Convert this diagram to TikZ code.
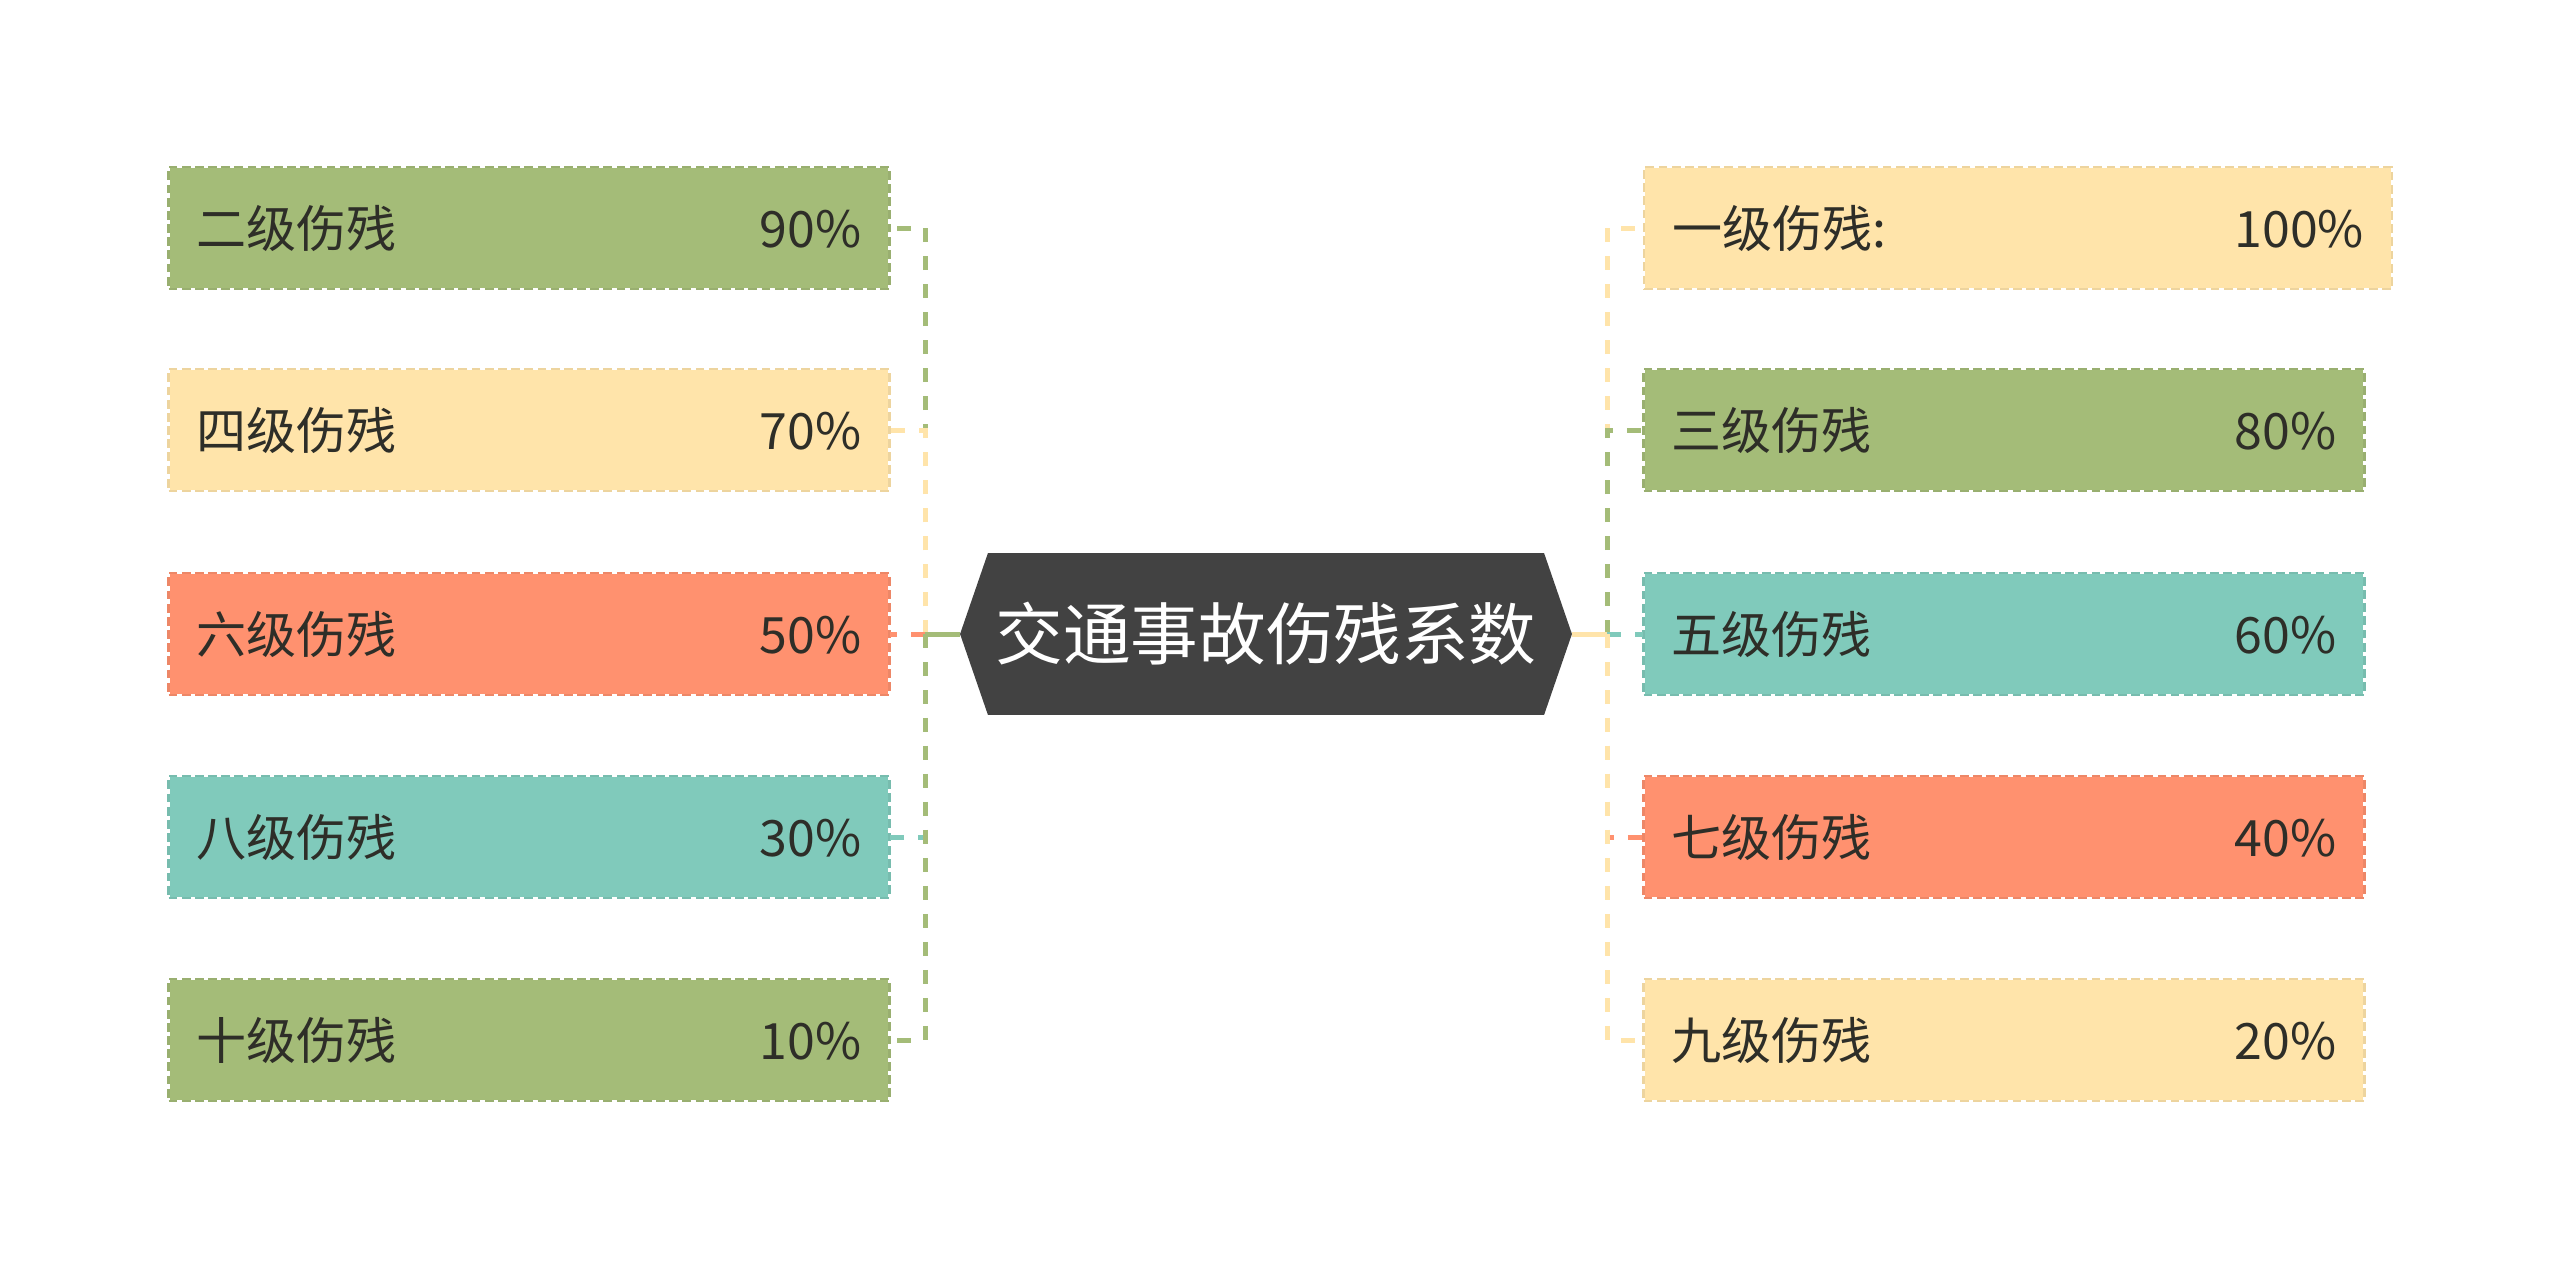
\documentclass[tikz,border=0pt]{standalone}
\usepackage{fontspec}
\setmainfont{Noto Sans CJK SC}
\usetikzlibrary{shapes.symbols}
\definecolor{leafgreen}{HTML}{A4BC78}
\definecolor{leafyellow}{HTML}{FFE4AA}
\definecolor{leaforange}{HTML}{FF916F}
\definecolor{leafteal}{HTML}{80CABB}
\definecolor{hubgray}{HTML}{424242}
\definecolor{ink}{HTML}{2E2E28}
\tikzset{
  leaf/.style  = {fill=#1, text=ink, minimum height=2.44cm, inner xsep=0.56cm,
                  inner ysep=0pt, text width=13.3cm,
                  font=\fontsize{28.5}{34}\selectfont,
                  postaction={draw=white, line width=1.4pt},
                  postaction={draw=#1!93!black, line width=1.4pt,
                              dash pattern=on 5pt off 2.5pt}},
  hub/.style   = {signal, signal to=west and east, signal pointer angle=142,
                  fill=hubgray, text=white, minimum width=12.24cm,
                  minimum height=3.24cm, inner sep=0pt,
                  font=\fontsize{38.5}{44}\selectfont},
  stem/.style  = {draw=#1, line width=0.1cm},
  link/.style  = {draw=#1, line width=0.1cm, dash pattern=on 0.28cm off 0.28cm},
}

\begin{document}
\begin{tikzpicture}[x=0.02cm, y=-0.02cm]
  \useasboundingbox (0,0) rectangle (2560,1269);
  % centre
  \node[hub] (hub) at (1266, 634) {交通事故伤残系数};
  \coordinate (jl) at (925, 634);
  \coordinate (jr) at (1607, 634);
  % left branches
  \node[leaf=leafgreen]  (l2)  at (529, 228)  {二级伤残\hfill 90\%};
  \node[leaf=leafyellow] (l4)  at (529, 430)  {四级伤残\hfill 70\%};
  \node[leaf=leaforange] (l6)  at (529, 634)  {六级伤残\hfill 50\%};
  \node[leaf=leafteal]   (l8)  at (529, 837)  {八级伤残\hfill 30\%};
  \node[leaf=leafgreen]  (l10) at (529, 1040) {十级伤残\hfill 10\%};
  % right branches
  \node[leaf=leafyellow, text width=13.84cm] (r1) at (2018, 228) {一级伤残:\hfill 100\%};
  \node[leaf=leafgreen]  (r3) at (2004, 430)  {三级伤残\hfill 80\%};
  \node[leaf=leafteal]   (r5) at (2004, 634)  {五级伤残\hfill 60\%};
  \node[leaf=leaforange] (r7) at (2004, 837)  {七级伤残\hfill 40\%};
  \node[leaf=leafyellow] (r9) at (2004, 1040) {九级伤残\hfill 20\%};
  % connectors
  \draw[link=leafgreen]  (jl) |- (l2.east);
  \draw[link=leafyellow] (jl) |- (l4.east);
  \draw[link=leaforange] (jl) |- (l6.east);
  \draw[link=leafteal]   (jl) |- (l8.east);
  \draw[link=leafgreen]  (jl) |- (l10.east);
  \draw[link=leafyellow] (jr) |- (r1.west);
  \draw[link=leafgreen]  (jr) |- (r3.west);
  \draw[link=leafteal]   (jr) |- (r5.west);
  \draw[link=leaforange] (jr) |- (r7.west);
  \draw[link=leafyellow] (jr) |- (r9.west);
  \draw[stem=leafgreen]  (hub.west) -- (jl);
  \draw[stem=leafyellow] (hub.east) -- (jr);
\end{tikzpicture}
\end{document}
